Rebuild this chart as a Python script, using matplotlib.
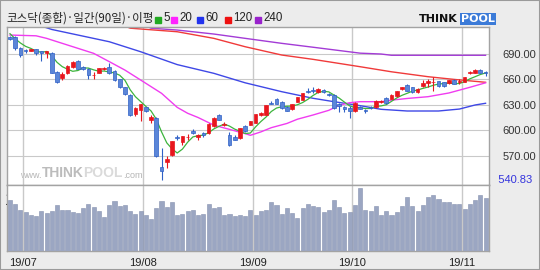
import matplotlib
matplotlib.use('Agg')
import matplotlib.pyplot as plt
import matplotlib.transforms as mtransforms
from matplotlib.patches import Rectangle

plt.rcParams['font.family'] = ['Noto Sans CJK KR', 'DejaVu Sans']

# 일봉 데이터 (2019/06/26 ~ 2019/11/07)
opens = [710.5, 710, 697, 694.5, 693.5, 695.5, 693.5, 691, 691, 669,
         661.5, 667, 675, 682, 675, 672, 665, 668, 672.5, 675,
         670, 660, 650.5, 642, 619, 624, 627, 612.5, 615, 556,
         562, 571, 592, 586, 591.5, 599.5, 591.5, 596.5, 597, 605,
         617.5, 606, 594, 592.5, 591, 604.5, 606.5, 608.5, 618.5, 618.5,
         632.5, 637, 633, 627.5, 625, 633.5, 636, 646.7, 647.5, 645,
         647.8, 642.8, 642, 631, 628, 626, 622.5, 628, 624, 628,
         627, 633.3, 638, 637, 640, 649, 653, 650.7, 645, 652,
         655.7, 656.8, 657.7, 656.6, 655.7, 659.6, 657, 657, 667.2, 667.6,
         671.5, 668.7]
highs = [711.5, 711, 698, 696, 696.5, 696.5, 694, 694, 692, 670,
         669, 677, 682, 683, 676, 673, 668.5, 674, 675, 679,
         671, 661, 651, 643, 628, 631.5, 628, 618, 616, 579,
         569, 587.5, 594, 593.5, 595, 601, 595, 598, 608, 616,
         619.5, 610, 598, 594, 603, 606, 611, 619.5, 621.5, 630,
         634, 638, 634, 628.5, 631.5, 639.5, 644.5, 649.5, 650.5, 650,
         648.5, 644, 643, 632, 629, 629, 633, 629, 625, 629,
         635.5, 636, 639, 642.5, 646.5, 651.5, 654, 651.5, 649.5, 659,
         661, 662.5, 658.5, 657.5, 659.5, 660.5, 660, 663, 669.5, 672,
         672.5, 669.5]
lows = [706.5, 695, 686, 691, 693, 689, 682, 685, 667, 656,
        659, 666, 674, 672, 671, 660, 660, 667, 671, 666,
        658, 650, 642, 617, 617, 610.5, 621, 609, 568.5, 540.83,
        555, 570, 588.5, 583, 589, 596, 588, 592, 596, 604,
        612, 605, 581, 588, 590, 598, 606, 608, 617, 618,
        630.5, 630.5, 625.5, 622.5, 624, 633, 635.5, 644.5, 644.5, 644.5,
        644.5, 640.5, 625.5, 621, 621.5, 615, 621.5, 624.5, 620.5, 625,
        626, 632.5, 631.5, 636.5, 639.5, 648, 646, 644.5, 644, 651,
        651.5, 646.7, 651, 651, 655, 654, 654.5, 656.5, 666.5, 667,
        667, 663.6]
closes = [708, 697, 689, 693.5, 695.5, 691.5, 691, 693.5, 668, 657,
          666, 676, 681, 672.5, 672.5, 665, 665.5, 673, 673.5, 667,
          659.5, 651.5, 643, 618, 626, 631, 622.3, 616, 569.8, 551.5,
          566, 587, 591, 593, 592.5, 597, 594, 594.5, 607, 615,
          612.5, 607.5, 582.5, 589, 602.5, 599, 610.5, 619, 620, 629.5,
          631.5, 631, 626.5, 623, 631, 639, 644, 645.5, 646, 649,
          645, 641.2, 626.2, 628.2, 625.5, 622.5, 632, 625.5, 622.3, 626,
          635, 634.8, 632.5, 642, 646, 650.7, 646.7, 645, 649, 655.7,
          658.5, 657.3, 652, 652, 659, 654.6, 658.5, 662.5, 668.7, 671.5,
          667.6, 667.6]
volumes = [816, 752, 645, 613, 576, 560, 629, 603, 629, 731,
           645, 656, 619, 603, 683, 741, 693, 629, 533, 736,
           800, 720, 731, 640, 592, 629, 576, 507, 683, 800,
           699, 773, 576, 587, 629, 656, 576, 592, 752, 683,
           699, 576, 592, 549, 576, 560, 656, 576, 640, 656,
           779, 725, 592, 683, 603, 517, 683, 741, 720, 699,
           613, 645, 805, 699, 603, 619, 731, 1000, 656, 629,
           720, 576, 629, 576, 613, 720, 859, 720, 629, 731,
           859, 885, 827, 773, 784, 747, 741, 672, 752, 805,
           896, 837]

# 이동평균선
ma5 = [714, 708, 703, 699, 696.6, 693.3, 692.1, 693, 687.9, 680.2,
       675.1, 672.1, 669.6, 670.5, 673.6, 673.4, 671.3, 669.7, 669.9, 668.8,
       667.7, 664.9, 658.9, 647.8, 639.6, 633.9, 628.1, 622.7, 613, 598.1,
       585.1, 578.1, 573.1, 577.7, 585.9, 592.1, 593.5, 594.2, 597, 601.5,
       604.6, 607.3, 604.9, 601.3, 598.8, 596.1, 596.7, 604, 610.2, 615.6,
       622.1, 626.2, 627.7, 628.3, 628.6, 630.1, 632.7, 636.5, 641.1, 644.7,
       645.9, 645.3, 641.5, 637.9, 633.2, 628.7, 626.9, 626.7, 625.6, 625.7,
       628.2, 628.7, 630.1, 634.1, 638.1, 641.2, 643.6, 646.1, 647.5, 649.4,
       651, 653.1, 654.5, 655.1, 655.8, 655, 655.2, 657.3, 660.7, 663.2,
       665.8, 667.6]
ma20_idx = [0, 5, 7, 10, 13, 16, 19, 22, 25, 29, 32, 34, 36, 39, 42, 45, 46,
            48, 50, 53, 55, 58, 61, 63, 65, 67, 71, 73, 76, 80, 84, 88, 91]
ma20 = [712.4, 711.5, 708.5, 702.6, 696.7, 690.8, 681, 671, 659.3, 643.6,
        627, 620, 615, 606, 601, 596, 594, 598, 603, 608, 613, 618, 623.5,
        629.5, 632.5, 633.7, 633.7, 635.5, 637.5, 639.6, 644, 650.7, 656]
ma60_idx = [6, 8, 19, 25, 32, 39, 45, 52, 58, 62, 67, 71, 76, 82, 86, 89, 91]
ma60 = [723, 719, 704.5, 692.7, 677.5, 667.2, 656, 645.5, 637.7, 633.7,
        629, 624.7, 622.7, 622.7, 625, 629.8, 631.8]
ma120_idx = [22, 23, 32, 39, 45, 52, 58, 67, 73, 80, 85, 91]
ma120 = [723, 720.5, 716.3, 708.5, 698.6, 688.8, 683.7, 675, 669, 663.2,
         660, 656.6]
ma240_idx = [26, 27, 32, 39, 45, 52, 58, 67, 71, 73, 91]
ma240 = [723, 720.5, 718.3, 713.6, 708.5, 702.6, 698, 691, 690, 688.5,
         688.5]

month_start = [3, 26, 47, 66, 87]
month_labels = ['19/07', '19/08', '19/09', '19/10', '19/11']
price_ticks = [570, 600, 630, 660, 690]
price_labels = ['570.00', '600.00', '630.00', '660.00', '690.00']
low_price = 540.83

RED = '#E8161E'
BLUE_F = '#5B86D8'
BLUE_E = '#2F60C6'
GRID = '#C9C9C9'
FRAME = '#A3A3A3'
BG = '#ECECEC'

W, H = 540, 270


def fx(x):
    return x / W


def fy(y):
    return 1 - y / H


fig = plt.figure(figsize=(5.4, 2.7), dpi=100, facecolor=BG)
ax = fig.add_axes([fx(7), fy(184.5), fx(489) - fx(7), fy(27) - fy(184.5)])
axv = fig.add_axes([fx(7), fy(251), fx(489) - fx(7), fy(184.5) - fy(251)],
                   sharex=ax)

n = len(closes)
idx = list(range(n))
xmin, xmax = -0.57, 91.66

# 가격 패널
ax.set_facecolor('white')
ax.set_xlim(xmin, xmax)
ax.set_ylim(535.9, 721.9)
for p in price_ticks:
    ax.axhline(p, color=GRID, lw=0.8, zorder=1)
for m in month_start:
    ax.axvline(m - 0.5, color=GRID, lw=1.0, zorder=1)
    axv.axvline(m - 0.5, color=GRID, lw=1.0, zorder=1)

ax.plot(ma240_idx, ma240, color='#A33BD6', lw=1.0, zorder=2)
ax.plot(ma120_idx, ma120, color='#F03A3A', lw=1.0, zorder=2)
ax.plot(ma60_idx, ma60, color='#3F48E6', lw=1.0, zorder=2)
ax.plot(ma20_idx, ma20, color='#F03CF0', lw=1.0, zorder=2)
ax.plot(idx, ma5, color='#3DB43D', lw=0.9, zorder=2)

for i in idx:
    up = closes[i] >= opens[i]
    wick = RED if up else BLUE_E
    ax.vlines(i, lows[i], highs[i], color=wick, lw=0.8, zorder=3)
    bot = min(opens[i], closes[i])
    hgt = max(abs(closes[i] - opens[i]), 0.7)
    ax.bar(i, hgt, 0.7, bot, color=RED if up else BLUE_F,
           edgecolor=RED if up else BLUE_E, lw=0.5, zorder=4)

ax.set_xticks([])
ax.set_yticks(price_ticks)
ax.set_yticklabels(price_labels, family='Liberation Sans', fontsize=8,
                   color='#333333')
ax.tick_params(axis='y', left=False, right=False, labelleft=False,
               labelright=True, pad=6)
trans = mtransforms.blended_transform_factory(ax.transAxes, ax.transData)
ax.text(1.0, low_price, '   ' + f'{low_price:.2f}', transform=trans,
        family='Liberation Sans', fontsize=8, color='#3333DD',
        ha='left', va='center', clip_on=False)
for s in ax.spines.values():
    s.set_color(FRAME)
    s.set_linewidth(1.0)

# 워터마크 (조각을 이어 붙임)
wm = ax.text(fx(20), fy(178), 'www.', transform=fig.transFigure, fontsize=6.5,
             color='#B5B5B5', family='Liberation Sans', va='baseline',
             zorder=0.5)
for piece, size, col, weight in [('THINK', 10, '#BCBCBC', 'bold'),
                                 ('POOL', 10, '#DADADA', 'bold'),
                                 ('.com', 6.5, '#B5B5B5', 'normal')]:
    wm = ax.annotate(piece, xy=(1, 0), xycoords=wm, va='bottom',
                     fontsize=size, color=col, fontweight=weight,
                     family='Liberation Sans', zorder=0.5,
                     annotation_clip=False)

# 거래량 패널
axv.set_facecolor('white')
axv.bar(idx, volumes, 0.78, color='#9BA6C2', edgecolor='#8590AE', lw=0.4,
        zorder=3)
axv.set_ylim(0, 1056)
axv.set_yticks([])
axv.set_xlim(xmin, xmax)
axv.set_xticks([m - 0.5 for m in month_start])
axv.set_xticklabels(month_labels, family='Liberation Sans', fontsize=8,
                    color='#222222')
axv.tick_params(axis='x', length=0, pad=5)
for s in axv.spines.values():
    s.set_color(FRAME)
    s.set_linewidth(1.0)

# 제목과 범례
fig.text(fx(6), fy(18), '코스닥(종합)·일간(90일)·이평', fontsize=8.3,
         color='#222222', va='center', ha='left')
legend_items = [('5', '#22AA22', 155), ('20', '#FF22FF', 171),
                ('60', '#2233EE', 197), ('120', '#EE1111', 225),
                ('240', '#9922CC', 255)]
for lab, col, xp in legend_items:
    fig.patches.append(Rectangle((fx(xp), fy(23)), fx(6), 6 / H,
                                 transform=fig.transFigure, color=col))
    fig.text(fx(xp + 8), fy(18), lab, fontsize=8.3, color='#222222',
             va='center', ha='left', family='Liberation Sans')

# 로고
fig.text(fx(419), fy(19), 'THINK', fontsize=8, fontweight='black',
         color='#111111', va='center', ha='left', family='DejaVu Sans')
fig.text(fx(461), fy(19), 'POOL', fontsize=8, fontweight='bold',
         color='white', va='center', ha='left', family='DejaVu Sans',
         bbox=dict(boxstyle='square,pad=0.1', fc='#3C7BD8', ec='none'))

fig.patches.append(Rectangle((0, 0), 1, 1, transform=fig.transFigure,
                             fill=False, edgecolor='#9A9A9A', lw=1.5))

fig.savefig('out.png', dpi=100, facecolor=BG)
